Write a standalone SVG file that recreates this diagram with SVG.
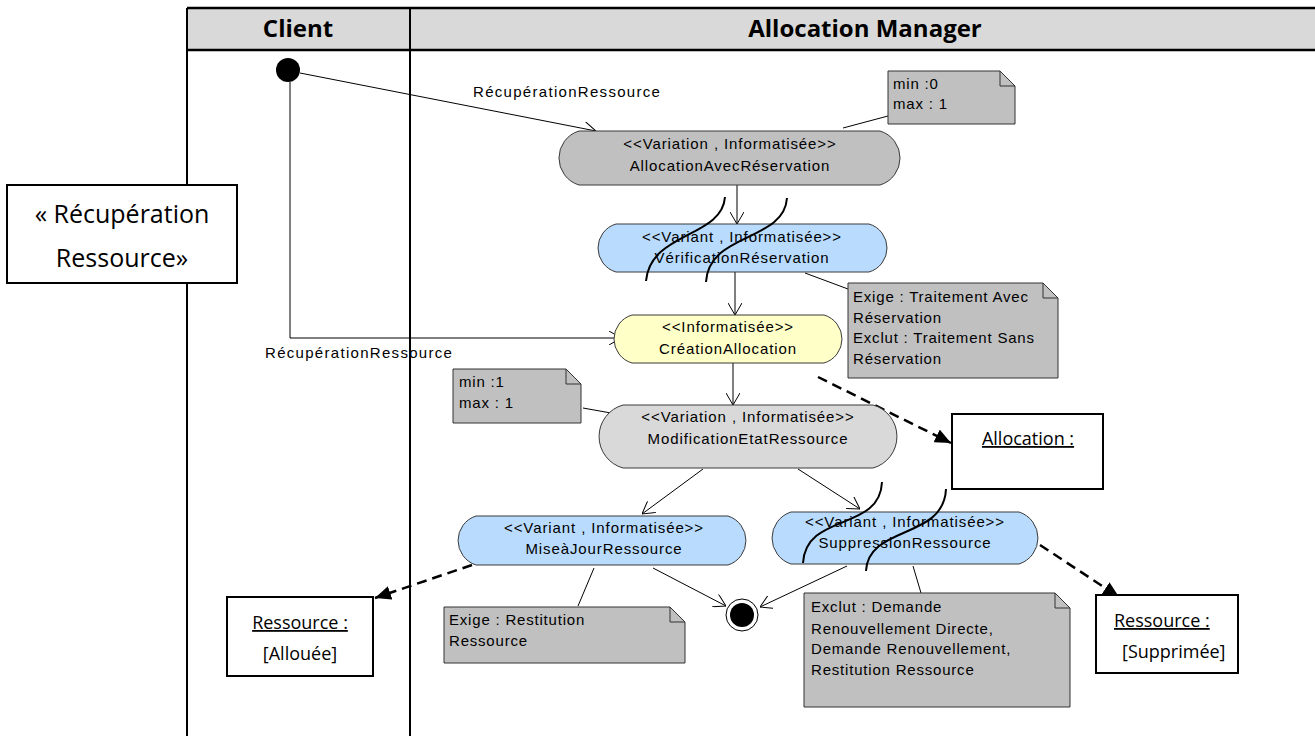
<svg xmlns="http://www.w3.org/2000/svg" width="1315" height="736" viewBox="0 0 1315 736">
<style>
.lane{stroke:#000;stroke-width:2;fill:none}
.hdr{font-family:"Open Sans","Noto Sans",sans-serif;font-weight:bold;font-size:24px;fill:#000}
.cal{font-family:"Open Sans","Noto Sans",sans-serif;font-size:18px;fill:#000}
.big{font-family:"Open Sans","Noto Sans",sans-serif;font-size:25px;fill:#000}
.t{font-family:"Liberation Sans",Arial,sans-serif;font-size:15px;letter-spacing:0.9px;fill:#000}
.lbl{font-family:"Liberation Sans",Arial,sans-serif;font-size:15px;letter-spacing:1.3px;fill:#000}
.nt{font-family:"Liberation Sans",Arial,sans-serif;font-size:15px;letter-spacing:0.8px;fill:#000}
.node{stroke:#3a3a3a;stroke-width:1}
.note{fill:#c0c0c0;stroke:#333;stroke-width:1}
.fold{fill:none;stroke:#333;stroke-width:1}
.box{fill:#fff;stroke:#000;stroke-width:2}
.flow{stroke:#000;stroke-width:1;fill:none;marker-end:url(#open)}
.dep{stroke:#000;stroke-width:2.5;fill:none;stroke-dasharray:10 6;marker-end:url(#fill)}
.link{stroke:#000;stroke-width:1;fill:none}
.curve{stroke:#000;stroke-width:2;fill:none}
.u{text-decoration:underline}
</style>
<defs>
<marker id="open" viewBox="0 0 12 14" refX="12" refY="7" markerWidth="12" markerHeight="14" markerUnits="userSpaceOnUse" orient="auto">
<path d="M0,0 L12,7 L0,14" fill="none" stroke="#000" stroke-width="1"/>
</marker>
<marker id="fill" viewBox="0 0 16 14" refX="16" refY="7" markerWidth="16" markerHeight="14" markerUnits="userSpaceOnUse" orient="auto">
<path d="M0,0 L16,7 L0,14 Z" fill="#000"/>
</marker>
</defs>

<g id="swimlanes">
<rect x="187" y="8" width="1130" height="42" fill="#d9d9d9"/>
<line x1="187" y1="8" x2="1315" y2="8" stroke="#000" stroke-width="2.5"/>
<line x1="187" y1="50" x2="1315" y2="50" stroke="#000" stroke-width="2.5"/>
<line class="lane" x1="187" y1="8" x2="187" y2="736"/>
<line class="lane" x1="410" y1="8" x2="410" y2="736"/>
<text class="hdr" x="298" y="37" text-anchor="middle">Client</text>
<text class="hdr" x="865" y="37" text-anchor="middle">Allocation Manager</text>
</g>

<g id="usecase-label">
<rect class="box" x="7" y="185" width="230" height="98"/>
<text class="big" x="122" y="223" text-anchor="middle">« Récupération</text>
<text class="big" x="122" y="267" text-anchor="middle">Ressource»</text>
</g>

<g id="connectors">
<line class="flow" x1="300" y1="73" x2="596" y2="131"/>
<polyline class="flow" points="290,82 290,338 621,338"/>
<line class="flow" x1="737" y1="185" x2="737" y2="224"/>
<line class="flow" x1="735" y1="272" x2="735" y2="315"/>
<line class="flow" x1="733" y1="363" x2="733" y2="405"/>
<line class="flow" x1="703" y1="469" x2="642" y2="514"/>
<line class="flow" x1="798" y1="469" x2="860" y2="509"/>
<line class="flow" x1="653" y1="568" x2="726" y2="606"/>
<line class="flow" x1="847" y1="566" x2="760" y2="607"/>
<line class="dep" x1="818" y1="377" x2="951" y2="443"/>
<line class="dep" x1="472" y1="565" x2="375" y2="598"/>
<line class="dep" x1="1040" y1="545" x2="1119" y2="597"/>
<line class="link" x1="843" y1="128" x2="888" y2="116"/>
<line class="link" x1="805" y1="273" x2="848" y2="289"/>
<line class="link" x1="583" y1="408" x2="622" y2="415"/>
<line class="link" x1="594" y1="568" x2="578" y2="606"/>
<line class="link" x1="913" y1="566" x2="921" y2="593"/>
<text class="lbl" x="473" y="97">RécupérationRessource</text>
<text class="lbl" x="265" y="358">RécupérationRessource</text>
</g>

<g id="initial">
<circle cx="288" cy="70" r="12" fill="#000"/>
</g>

<g id="AllocationAvecReservation">
<path class="node" fill="#c0c0c0" d="M579 131 L880 131 A28.2 28.2 0 0 1 880 185 L579 185 A28.2 28.2 0 0 1 579 131 Z"/>
<text class="t" x="730" y="149" text-anchor="middle">&lt;&lt;Variation , Informatisée&gt;&gt;</text>
<text class="t" x="730" y="171" text-anchor="middle">AllocationAvecRéservation</text>
</g>

<g id="VerificationReservation">
<path class="node" fill="#b9dcfe" d="M616 224 L869 224 A25 25 0 0 1 869 272 L616 272 A25 25 0 0 1 616 224 Z"/>
<text class="t" x="742" y="242" text-anchor="middle">&lt;&lt;Variant , Informatisée&gt;&gt;</text>
<text class="t" x="742" y="263" text-anchor="middle">VérificationRéservation</text>
</g>

<g id="CreationAllocation">
<path class="node" fill="#ffffc8" d="M632 315 L824 315 A25 25 0 0 1 824 363 L632 363 A25 25 0 0 1 632 315 Z"/>
<text class="t" x="728" y="332" text-anchor="middle">&lt;&lt;Informatisée&gt;&gt;</text>
<text class="t" x="728" y="354" text-anchor="middle">CréationAllocation</text>
</g>

<g id="ModificationEtatRessource">
<path class="node" fill="#d9d9d9" d="M623 405 L873 405 A32.7 32.7 0 0 1 873 468 L623 468 A32.7 32.7 0 0 1 623 405 Z"/>
<text class="t" x="748" y="422" text-anchor="middle">&lt;&lt;Variation , Informatisée&gt;&gt;</text>
<text class="t" x="748" y="444" text-anchor="middle">ModificationEtatRessource</text>
</g>

<g id="MiseAJourRessource">
<path class="node" fill="#b9dcfe" d="M476 516 L728 516 A25.7 25.7 0 0 1 728 565 L476 565 A25.7 25.7 0 0 1 476 516 Z"/>
<text class="t" x="604" y="533" text-anchor="middle">&lt;&lt;Variant , Informatisée&gt;&gt;</text>
<text class="t" x="604" y="554" text-anchor="middle">MiseàJourRessource</text>
</g>

<g id="SuppressionRessource">
<path class="node" fill="#b9dcfe" d="M791 512 L1019 512 A27.3 27.3 0 0 1 1019 564 L791 564 A27.3 27.3 0 0 1 791 512 Z"/>
<text class="t" x="905" y="527" text-anchor="middle">&lt;&lt;Variant , Informatisée&gt;&gt;</text>
<text class="t" x="905" y="548" text-anchor="middle">SuppressionRessource</text>
</g>

<g id="final">
<circle cx="742" cy="615" r="16" fill="#fff" stroke="#000" stroke-width="1"/>
<circle cx="742" cy="615" r="12" fill="#000"/>
</g>

<g id="curves">
<path class="curve" d="M725 197 C722 238 650 232 646 281"/>
<path class="curve" d="M787 198 C784 242 709 232 706 282"/>
<path class="curve" d="M882 482 C880 532 806 512 803 563"/>
<path class="curve" d="M946 489 C944 540 868 525 866 571"/>
</g>

<g id="note-minmax-0">
<path class="note" d="M888 71 L1000 71 L1015 86 L1015 124 L888 124 Z"/>
<path class="fold" d="M1000 71 L1000 86 L1015 86"/>
<text class="nt" x="893" y="89">min :0</text>
<text class="nt" x="893" y="109">max : 1</text>
</g>

<g id="note-minmax-1">
<path class="note" d="M453 369 L566 369 L581 384 L581 423 L453 423 Z"/>
<path class="fold" d="M566 369 L566 384 L581 384"/>
<text class="nt" x="459" y="387">min :1</text>
<text class="nt" x="459" y="408">max : 1</text>
</g>

<g id="note-exige-reservation">
<path class="note" d="M848 283 L1043 283 L1058 298 L1058 378 L848 378 Z"/>
<path class="fold" d="M1043 283 L1043 298 L1058 298"/>
<text class="nt" x="853" y="302">Exige : Traitement Avec</text>
<text class="nt" x="853" y="323">Réservation</text>
<text class="nt" x="853" y="343">Exclut : Traitement Sans</text>
<text class="nt" x="853" y="364">Réservation</text>
</g>

<g id="note-exige-restitution">
<path class="note" d="M444 607 L670 607 L685 622 L685 663 L444 663 Z"/>
<path class="fold" d="M670 607 L670 622 L685 622"/>
<text class="nt" x="449" y="625">Exige : Restitution</text>
<text class="nt" x="449" y="646">Ressource</text>
</g>

<g id="note-exclut">
<path class="note" d="M804 593 L1055 593 L1070 608 L1070 707 L804 707 Z"/>
<path class="fold" d="M1055 593 L1055 608 L1070 608"/>
<text class="nt" x="811" y="612">Exclut : Demande</text>
<text class="nt" x="811" y="634">Renouvellement Directe,</text>
<text class="nt" x="811" y="654">Demande Renouvellement,</text>
<text class="nt" x="811" y="675">Restitution Ressource</text>
</g>

<g id="obj-allocation">
<rect class="box" x="952" y="414" width="151" height="75"/>
<text class="cal u" x="1028" y="445" text-anchor="middle">Allocation :</text>
</g>

<g id="obj-ressource-allouee">
<rect class="box" x="227" y="597" width="146" height="79"/>
<text class="cal u" x="300" y="629" text-anchor="middle">Ressource :</text>
<text class="cal" x="300" y="660" text-anchor="middle">[Allouée]</text>
</g>

<g id="obj-ressource-supprimee">
<rect class="box" x="1096" y="595" width="142" height="78"/>
<text class="cal u" x="1114" y="627">Ressource :</text>
<text class="cal" x="1122" y="658">[Supprimée]</text>
</g>
</svg>
